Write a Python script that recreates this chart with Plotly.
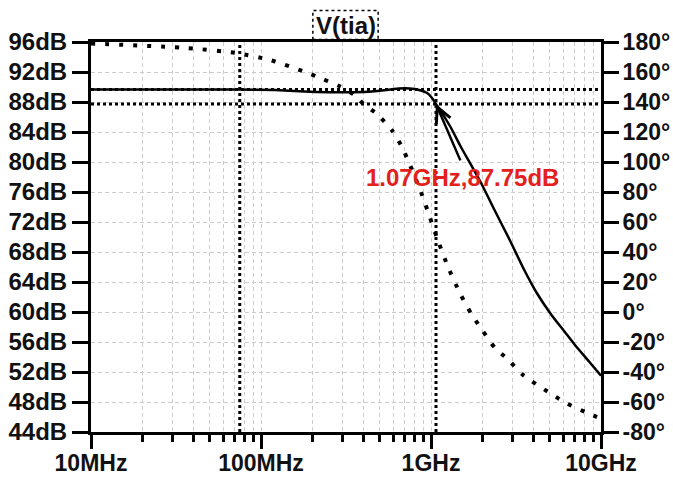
import math
import plotly.graph_objects as go

# ---------------- data ----------------
mag_freq = [1e7, 3e7, 7.5e7, 1.2e8, 1.8e8, 2.5e8, 3.5e8, 4.5e8, 5.5e8, 6.5e8, 7.5e8,
            8.5e8, 9.5e8, 1.0e9, 1.07e9, 1.3e9, 1.5e9, 1.94e9, 2.4e9, 2.92e9, 3.5e9,
            4.2e9, 5.15e9, 6.0e9, 7.03e9, 8.5e9, 1e10]
mag_db = [89.67, 89.67, 89.67, 89.6, 89.4, 89.3, 89.3, 89.4, 89.6, 89.8, 89.8,
          89.6, 89.2, 88.7, 87.75, 84.7, 82.0, 77.5, 73.3, 69.5, 65.8,
          62.5, 59.5, 57.6, 55.6, 53.4, 51.5]

ph_freq = [1e7, 3.67e7, 7.3e7, 1.13e8, 1.82e8, 2.28e8, 2.84e8, 3.57e8, 3.98e8, 4.81e8,
           5.9e8, 6.75e8, 7.52e8, 8.73e8, 9.86e8, 1.08e9, 1.26e9, 1.48e9, 1.72e9,
           2.0e9, 2.38e9, 2.8e9, 3.48e9, 5.0e9, 6.3e9, 9.0e9, 1e10]
ph_deg = [179, 176, 172.5, 168, 160, 155.5, 151, 144.5, 139, 132,
          121, 110, 98, 80, 63, 50, 30, 12.5, -1,
          -12, -24, -31, -42, -54, -61, -69, -71]

cursor1_freq, cursor1_db = 7.5e7, 89.67
cursor2_freq, cursor2_db = 1.07e9, 87.75

x_tickvals = [1e7, 1e8, 1e9, 1e10]
x_ticktext = ["10MHz", "100MHz", "1GHz", "10GHz"]
x_minor = [m * 10 ** e for e in range(7, 10) for m in range(2, 10)]
y_tickvals = list(range(44, 97, 4))
y_ticktext = [f"{v}dB" for v in y_tickvals]
y2_tickvals = list(range(-80, 181, 20))
y2_ticktext = [f"{v}°" for v in y2_tickvals]

title_text = "V(tia)"

FONT = "Liberation Sans, Arial, sans-serif"
dark = "#111111"
grid = "#cccccc"

fig = go.Figure()

# cursor lines
xr = [10 ** 7, 10 ** 10]
yr = [44, 96]
for f in (cursor1_freq, cursor2_freq):
    fig.add_trace(go.Scatter(x=[f, f], y=yr, mode="lines",
                             line=dict(color="black", width=3, dash="3px,3px"),
                             hoverinfo="skip", showlegend=False))
for d in (cursor1_db, cursor2_db):
    fig.add_trace(go.Scatter(x=xr, y=[d, d], mode="lines",
                             line=dict(color="black", width=3, dash="3px,3px"),
                             hoverinfo="skip", showlegend=False))

# phase (dotted)
fig.add_trace(go.Scatter(x=ph_freq, y=ph_deg, yaxis="y2", mode="lines",
                         line=dict(color="black", width=4, dash="4px,10px", shape="spline", smoothing=0.6),
                         showlegend=False))
# magnitude (solid)
fig.add_trace(go.Scatter(x=mag_freq, y=mag_db, mode="lines",
                         line=dict(color="black", width=2.5, shape="spline", smoothing=0.5),
                         showlegend=False))

fig.update_layout(
    width=673, height=477,
    margin=dict(l=91, r=72, t=42, b=45, autoexpand=False),
    paper_bgcolor="white", plot_bgcolor="white",
    showlegend=False,
    xaxis=dict(type="log", range=[7, 10], tickvals=x_tickvals, ticktext=x_ticktext,
               automargin=False,
               showline=True, linecolor="black", linewidth=3, mirror=True,
               ticks="outside", ticklen=14, tickwidth=3, tickcolor="black",
               tickfont=dict(family=FONT, size=23, color=dark, weight="bold"),
               ticklabelstandoff=-6,
               showgrid=True, gridcolor=grid, griddash="4px,3px", gridwidth=1,
               minor=dict(tickvals=x_minor, ticks="outside", ticklen=7, tickwidth=2.5,
                          tickcolor="black", showgrid=True, gridcolor=grid,
                          griddash="4px,3px", gridwidth=1),
               zeroline=False),
    yaxis=dict(range=[44, 96], tickvals=y_tickvals, ticktext=y_ticktext,
               automargin=False,
               showline=True, linecolor="black", linewidth=3,
               ticks="outside", ticklen=16, tickwidth=3, tickcolor="black",
               tickfont=dict(family=FONT, size=24, color=dark, weight="bold"),
               showgrid=True, gridcolor=grid, griddash="4px,3px", gridwidth=1,
               zeroline=False),
    yaxis2=dict(range=[-80, 180], tickvals=y2_tickvals, ticktext=y2_ticktext,
                automargin=False,
                overlaying="y", side="right",
                showline=True, linecolor="black", linewidth=3,
                ticks="outside", ticklen=15, tickwidth=3, tickcolor="black",
                tickfont=dict(family=FONT, size=23, color=dark, weight="bold"),
                ticklabelstandoff=-1,
                showgrid=False, zeroline=False),
)

# title in dotted box
fig.add_annotation(text=title_text, xref="paper", yref="paper", x=0.5, y=1.042,
                   xanchor="center", yanchor="middle", showarrow=False,
                   font=dict(family=FONT, size=24, color=dark, weight="bold"))
fig.add_shape(type="rect", xref="paper", yref="paper", x0=0.435, x1=0.563, y0=1.0064, y1=1.081,
              line=dict(color="black", width=1.5, dash="dot"))

# cursor readout label and arrow
fig.add_annotation(text=f"{cursor2_freq/1e9:.2f}GHz,{cursor2_db:.2f}dB",
                   xref="x", yref="y", x=9.1824, y=77.9, showarrow=False,
                   xanchor="center", yanchor="middle",
                   font=dict(family=FONT, size=24, color="#e3201b", weight="bold"))
fig.add_annotation(text="", xref="x", yref="y", x=math.log10(cursor2_freq), y=cursor2_db,
                   showarrow=True, ax=25, ay=58, arrowhead=5, arrowwidth=2.5, arrowsize=1.2,
                   arrowcolor="black", standoff=0)

fig.write_html("out.html")
